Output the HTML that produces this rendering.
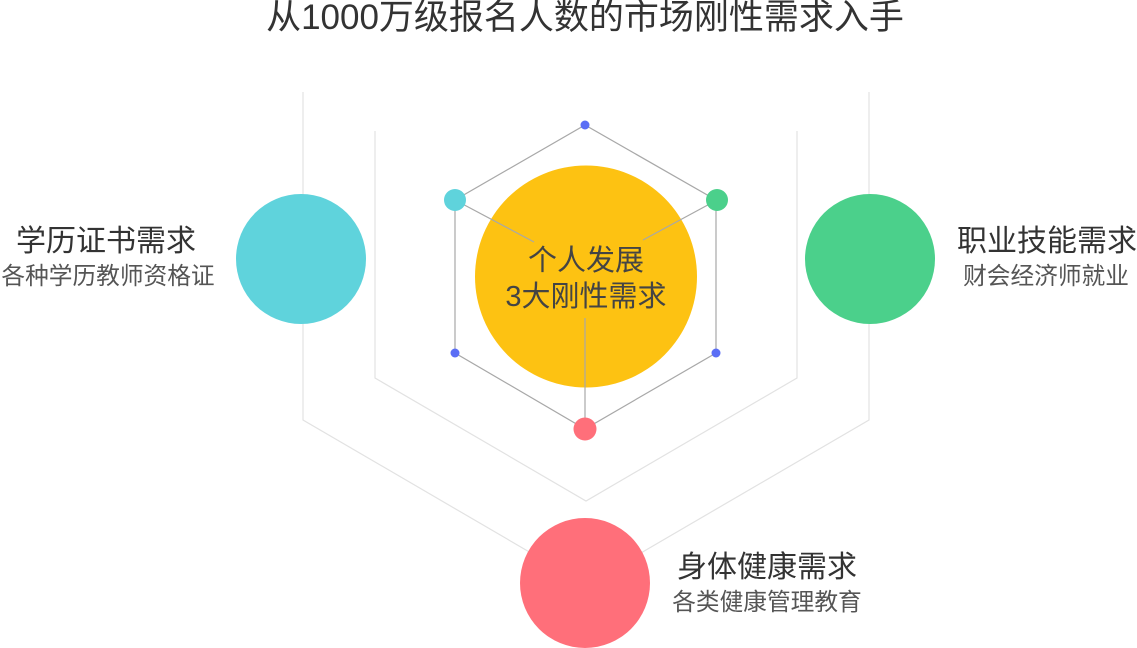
<!DOCTYPE html>
<html><head><meta charset="utf-8"><style>
html,body{margin:0;padding:0;background:#fff;}
body{width:1137px;height:648px;overflow:hidden;position:relative;font-family:"Liberation Sans","Noto Sans CJK SC",sans-serif;color:#333;}
.t{position:absolute;white-space:nowrap;line-height:1;}
</style></head><body>
<svg width="1137" height="648" style="position:absolute;left:0;top:0">
<g stroke="#e2e2e2" stroke-width="1.2" fill="none">
<polyline points="303,92 303,420 586,585 869,420 869,92"/>
<polyline points="375,131 375,378 586,501 797,378 797,131"/>
</g>
<circle cx="586" cy="276.5" r="111" fill="#fdc212"/>
<g stroke="#a8a8a8" stroke-width="1.2" fill="none">
<polygon points="585,125 716,200 716,353 585,429 455,353 455,200"/>
<line x1="455" y1="200" x2="534" y2="242"/>
<line x1="717" y1="200" x2="643" y2="240"/>
<line x1="585" y1="429" x2="585" y2="318"/>
</g>
<circle cx="585" cy="125" r="4.5" fill="#5b6ef5"/>
<circle cx="455" cy="353" r="4.5" fill="#5b6ef5"/>
<circle cx="716" cy="353" r="4.5" fill="#5b6ef5"/>
<circle cx="455" cy="200" r="11" fill="#5fd3dc"/>
<circle cx="717" cy="200" r="11" fill="#4bd08b"/>
<circle cx="585" cy="429" r="11.5" fill="#ff6f7a"/>
<circle cx="301" cy="259" r="65" fill="#5fd3dc"/>
<circle cx="870" cy="259" r="65" fill="#4bd08b"/>
<circle cx="585" cy="583" r="65" fill="#ff6f7a"/>
</svg>
<div class="t" style="left:0;width:1170px;text-align:center;top:0px;font-size:35px;">从1000万级报名人数的市场刚性需求入手</div>
<div class="t" style="left:436px;width:300px;text-align:center;top:247px;font-size:29px;color:#444;">个人发展</div>
<div class="t" style="left:436px;width:300px;text-align:center;top:283px;font-size:29px;color:#444;">3大刚性需求</div>
<div class="t" style="left:0;width:212px;text-align:center;top:227px;font-size:30px;">学历证书需求</div>
<div class="t" style="left:-2px;width:220px;text-align:center;top:266px;font-size:23.7px;color:#555;">各种学历教师资格证</div>
<div class="t" style="left:947px;width:200px;text-align:center;top:227px;font-size:30px;">职业技能需求</div>
<div class="t" style="left:946px;width:200px;text-align:center;top:266px;font-size:23.7px;color:#555;">财会经济师就业</div>
<div class="t" style="left:667px;width:200px;text-align:center;top:553px;font-size:30px;">身体健康需求</div>
<div class="t" style="left:657px;width:220px;text-align:center;top:592px;font-size:23.7px;color:#555;">各类健康管理教育</div>
</body></html>
